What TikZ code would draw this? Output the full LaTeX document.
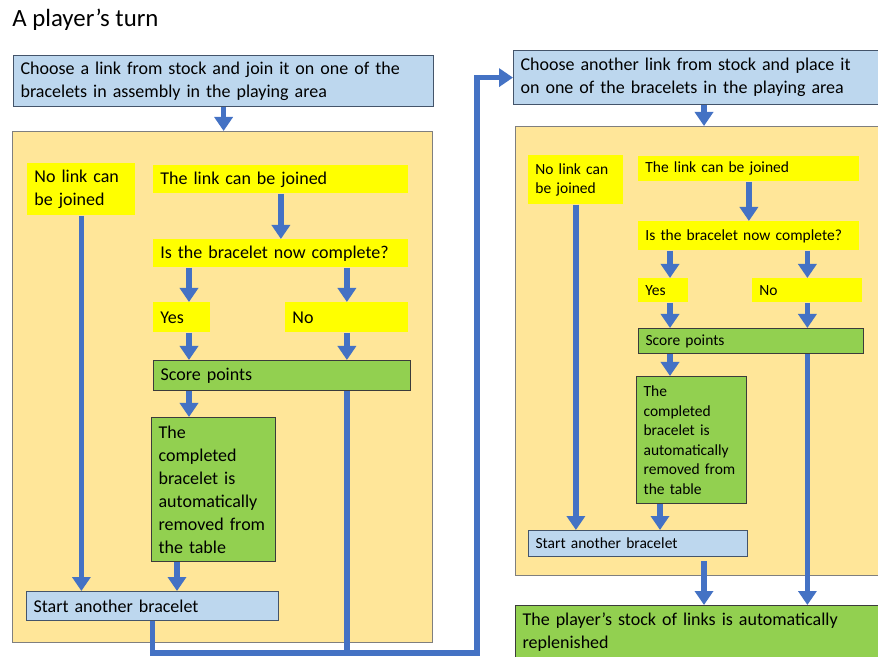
\documentclass[tikz,border=0pt]{standalone}
\usepackage{fontspec}
\setmainfont{Carlito}
\usepackage{tikz}
\usetikzlibrary{arrows.meta}
\definecolor{boxblue}{HTML}{BDD7EE}
\definecolor{edgeblue}{HTML}{44546A}
\definecolor{panelorange}{HTML}{FFE699}
\definecolor{paneledge}{HTML}{7F7F7F}
\definecolor{askyellow}{HTML}{FFFF00}
\definecolor{actgreen}{HTML}{92D050}
\definecolor{actedge}{HTML}{3B3B3B}
\definecolor{flowblue}{HTML}{4472C4}

\begin{document}
\begin{tikzpicture}[x=0.5pt,y=-0.5pt,
	flow/.style={line width=2.6pt, draw=flowblue, -{Triangle[width=9pt,length=7pt]}},
	link/.style={line width=2.6pt, draw=flowblue},
	cell/.style={anchor=north west, inner xsep=3.5pt, inner ysep=0pt, align=left, font=\fontsize{9}{11.5}\selectfont},
	small/.style={font=\fontsize{7.75}{9.8}\selectfont},
	stepbox/.style={cell, fill=boxblue, draw=edgeblue, line width=0.6pt},
	ask/.style={cell, fill=askyellow},
	act/.style={cell, fill=actgreen, draw=actedge, line width=0.6pt},
	panel/.style={anchor=north west, inner sep=0pt, fill=panelorange, draw=paneledge, line width=0.6pt}]
	\useasboundingbox (0,0) rectangle (878,657);

	\node[anchor=west, inner sep=0pt, font=\fontsize{12.4}{14}\selectfont] (title) at (12,20) {A player’s turn};

	\node[stepbox, text width=203pt, minimum height=25.5pt] (top1) at (13,55) {Choose a link from stock and join it on one of the\\bracelets in assembly in the playing area};
	\node[panel, minimum width=210pt, minimum height=255.5pt] (panel1) at (12,131) {};
	\node[ask, text width=47pt, minimum height=26pt] (nolink1) at (27,163) {No link can\\be joined};
	\node[ask, text width=120.5pt, minimum height=14pt] (canjoin1) at (153,165) {The link can be joined};
	\node[ask, text width=120.5pt, minimum height=14pt] (q1) at (153,239) {Is the bracelet now complete?};
	\node[ask, text width=21.5pt, minimum height=15pt] (yes1) at (153,302) {Yes};
	\node[ask, text width=54.5pt, minimum height=15pt] (no1) at (285,302) {No};
	\node[act, text width=121.5pt, minimum height=15pt] (score1) at (153,360) {Score points};
	\node[act, text width=55pt, minimum height=72pt] (removed1) at (151,417) {The\\completed\\bracelet is\\automatically\\removed from\\the table};
	\node[stepbox, text width=119pt, minimum height=14.5pt] (start1) at (26,591) {Start another bracelet};

	\node[stepbox, text width=178pt, minimum height=27pt] (top2) at (513,50) {Choose another link from stock and place it\\on one of the bracelets in the playing area};
	\node[panel, minimum width=185pt, minimum height=224.5pt] (panel2) at (515,126) {};
	\node[ask, small, text width=40.5pt, minimum height=24.5pt] (nolink2) at (528,155) {No link can\\be joined};
	\node[ask, small, text width=103.5pt, minimum height=12.5pt] (canjoin2) at (638,156) {The link can be joined};
	\node[ask, small, text width=103.5pt, minimum height=14.5pt] (q2) at (638,221) {Is the bracelet now complete?};
	\node[ask, small, text width=18pt, minimum height=12pt] (yes2) at (638,278) {Yes};
	\node[ask, small, text width=48pt, minimum height=12pt] (no2) at (752,278) {No};
	\node[act, small, text width=105.5pt, minimum height=12.5pt] (score2) at (638,328) {Score points};
	\node[act, small, text width=48pt, minimum height=63.5pt] (removed2) at (636,376) {The\\completed\\bracelet is\\automatically\\removed from\\the table};
	\node[stepbox, small, text width=102.5pt, minimum height=13pt] (start2) at (528,530) {Start another bracelet};
	\node[act, text width=181pt, minimum height=27pt] (final) at (515,605) {The player’s stock of links is automatically\\replenished};

	\coordinate (col1) at (189,0);
	\coordinate (drop1) at (177,0);
	\coordinate (col2) at (670,0);
	\coordinate (drop2) at (660,0);
	\coordinate (col3) at (704,0);
	\coordinate (loop) at (477,653);

	\draw[flow] (top1.south) -- (top1.south |- panel1.north);
	\draw[flow] (canjoin1.south) -- (canjoin1.south |- q1.north);
	\draw[flow] (q1.south -| col1) -- (yes1.north -| col1);
	\draw[flow] (q1.south -| no1) -- (no1.north);
	\draw[flow] (yes1.south -| col1) -- (score1.north -| col1);
	\draw[flow] (no1.south) -- (no1.south |- score1.north);
	\draw[flow] (score1.south -| col1) -- (removed1.north -| col1);
	\draw[flow] (removed1.south -| drop1) -- (start1.north -| drop1);
	\draw[flow] (nolink1.south) -- (nolink1.south |- start1.north);
	\draw[link] (score1.south -| no1) -- (no1 |- loop);
	\draw[flow] (start1.south) |- (loop) |- (top2.west);

	\draw[flow] (top2.south -| col3) -- (panel2.north -| col3);
	\draw[flow] (canjoin2.south) -- (q2.north);
	\draw[flow] (q2.south -| col2) -- (yes2.north -| col2);
	\draw[flow] (q2.south -| no2) -- (no2.north);
	\draw[flow] (yes2.south -| col2) -- (score2.north -| col2);
	\draw[flow] (no2.south) -- (no2.south |- score2.north);
	\draw[flow] (score2.south -| col2) -- (removed2.north -| col2);
	\draw[flow] (removed2.south -| drop2) -- (start2.north -| drop2);
	\draw[flow] (nolink2.south) -- (nolink2.south |- start2.north);
	\draw[flow] ([yshift=-2pt]start2.south -| col3) -- (final.north -| col3);
	\draw[flow] (score2.south -| no2) -- (final.north -| no2);
\end{tikzpicture}
\end{document}
